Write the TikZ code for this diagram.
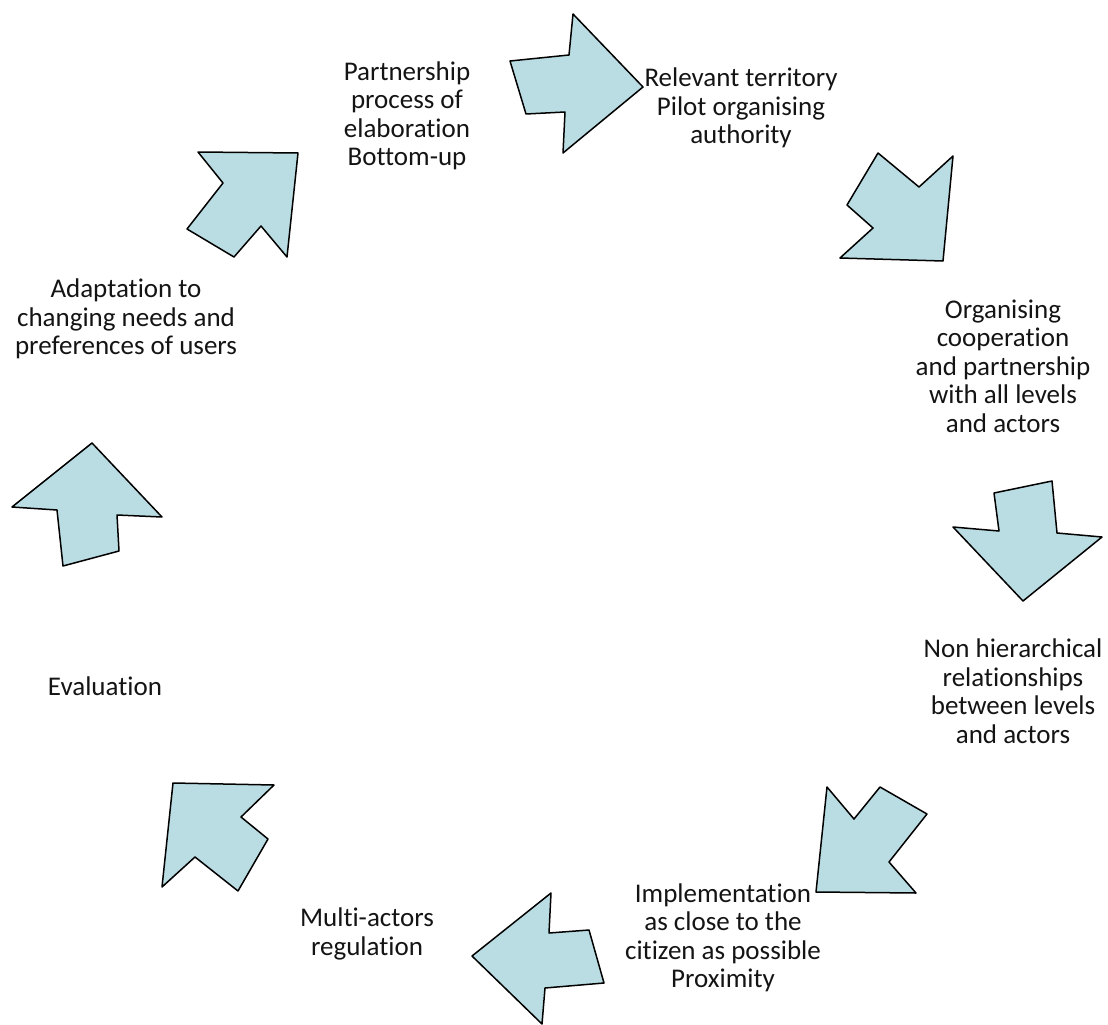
\documentclass[tikz,border=0pt]{standalone}
\usepackage{fontspec}
\setmainfont{Carlito}[Ligatures=NoCommon]
\usepackage{xcolor}
\usetikzlibrary{positioning}
\definecolor{arrowfill}{RGB}{186,221,227}
\definecolor{stageink}{RGB}{20,20,20}

\begin{document}
\begin{tikzpicture}[x=1pt,y=-1pt,
    blockarrow/.style={draw=black, line width=1.5pt, fill=arrowfill, line join=round},
    stagetext/.style={align=center, inner sep=0pt, text=stageink,
        font=\fontsize{27}{28.5}\selectfont}]
\useasboundingbox (0,0) rectangle (1108,1025);

% stages
\node[stagetext] (partner) at (407,116) {Partnership\\process of\\elaboration\\Bottom-up};
\node[stagetext] (territory) at (741,108) {Relevant territory\\Pilot organising\\authority};
\node[stagetext] (cooperation) at (1003,366) {Organising\\cooperation\\and partnership\\with all levels\\and actors};
\node[stagetext] (nonhier) at (1013,691) {Non hierarchical\\relationships\\between levels\\and actors};
\node[stagetext] (proximity) at (723,938) {Implementation\\as close to the\\citizen as possible\\Proximity};
\node[stagetext] (regulation) at (367,934) {Multi-actors\\regulation};
\node[stagetext] (evaluation) at (105,686) {Evaluation};
\node[stagetext] (adaptation) at (126,319) {Adaptation to\\changing needs and\\preferences of users};

% block arrows
\draw[blockarrow] (510,61) -- (569,55) -- (573,14) -- (643,87) -- (563,153) -- (565,112) -- (526,114) -- cycle;
\draw[blockarrow] (878,153) -- (919,187) -- (953,156) -- (943,261) -- (840,258) -- (873,228) -- (847,205) -- cycle;
\draw[blockarrow] (994,493) -- (1052,481) -- (1057,533) -- (1102,537) -- (1023,601) -- (953,527) -- (999,531) -- cycle;
\draw[blockarrow] (827,787) -- (854,819) -- (880,787) -- (927,814) -- (889,862) -- (916,893) -- (816,892) -- cycle;
\draw[blockarrow] (551,893) -- (549,933) -- (589,930) -- (604,983) -- (545,988) -- (542,1024) -- (472,956) -- cycle;
\draw[blockarrow] (173,783) -- (274,785) -- (241,817) -- (268,839) -- (238,891) -- (195,857) -- (162,887) -- cycle;
\draw[blockarrow] (92,443) -- (162,517) -- (117,515) -- (119,551) -- (63,566) -- (57,510) -- (12,507) -- cycle;
\draw[blockarrow] (198,152) -- (298,153) -- (287,257) -- (261,226) -- (234,257) -- (187,229) -- (223,183) -- cycle;
\end{tikzpicture}
\end{document}
